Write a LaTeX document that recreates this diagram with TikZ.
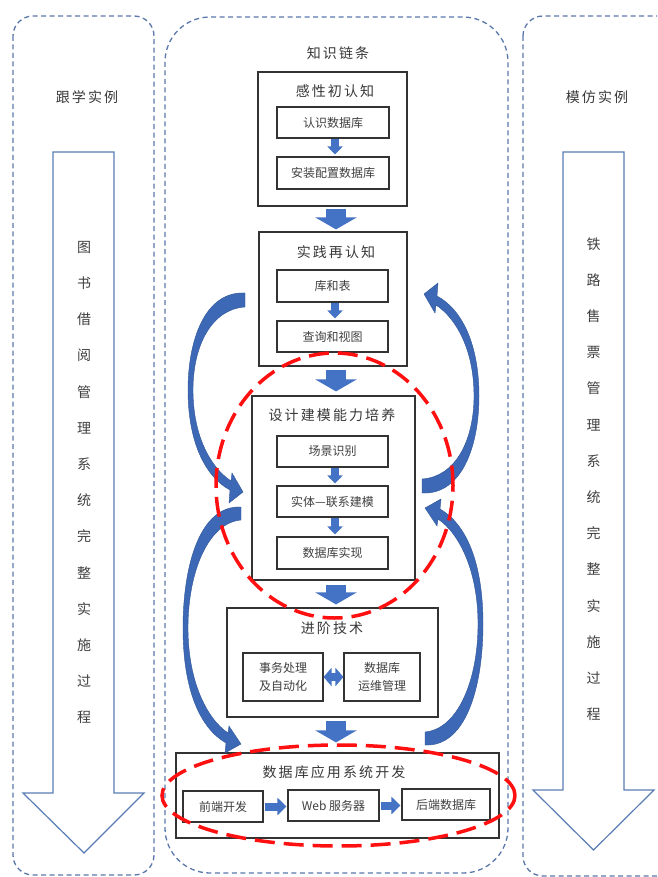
\documentclass[tikz,border=0pt]{standalone}
\usepackage{fontspec}
\setmainfont{Noto Sans CJK SC}
\newfontfamily\titlefont[LetterSpace=15]{Noto Sans CJK SC}
\usetikzlibrary{arrows.meta,calc}
\definecolor{panelblue}{HTML}{5B78AA}
\definecolor{sideblue}{HTML}{5A7DB5}
\definecolor{arrowblue}{HTML}{4472C4}
\definecolor{curvblue}{HTML}{3D68B5}
\definecolor{curvedge}{HTML}{2F5597}
\definecolor{boxgray}{HTML}{333333}
\definecolor{textgray}{HTML}{404040}
\definecolor{titlegray}{HTML}{383838}
\definecolor{ellred}{HTML}{FF1010}
\begin{document}
\begin{tikzpicture}[x=1pt,y=-1pt,
  panel/.style={draw=panelblue, line width=1.3pt, dash pattern=on 5pt off 3.5pt},
  sidearrow/.style={draw=sideblue, line width=1.2pt, fill=white, line join=miter},
  outerbox/.style={draw=boxgray, line width=1.2pt, fill=white, inner sep=0pt},
  innerbox/.style={draw=boxgray, line width=1.1pt, fill=white, inner sep=0pt, align=center,
    font=\fontsize{12}{17.5}\selectfont, text=textgray},
  ttl/.style={font=\titlefont\fontsize{14}{17}\selectfont, text=titlegray},
  vtext/.style={font=\fontsize{14}{36.2}\selectfont, align=center, text=textgray},
  bigarrow/.style={draw=arrowblue, line width=20pt, -{Triangle[width=41pt,length=12pt]}},
  smallarrow/.style={draw=arrowblue, line width=8pt, -{Triangle[width=15pt,length=8pt]}},
  harrow/.style={draw=arrowblue, line width=8pt, -{Triangle[width=17pt,length=9pt]}},
  dblarrow/.style={draw=arrowblue, line width=8pt, {Triangle[width=18pt,length=8pt]}-{Triangle[width=18pt,length=8pt]}},
  curv/.style={fill=curvblue, draw=curvedge, line width=0.4pt},
  redell/.style={draw=ellred, line width=3.5pt, dash pattern=on 20pt off 9pt}
]
\useasboundingbox (0,0) rectangle (657,877);
\clip (0,0) rectangle (657,877);

% panels
\draw[panel, rounded corners=20pt] (13,16) rectangle (154,875);
\draw[panel, rounded corners=45pt] (165,17) rectangle (508,873);
\draw[panel, rounded corners=20pt] (523,16) rectangle (690,876);

% side titles
\node[ttl] (lttl) at (87,97) {跟学实例};
\node[ttl] (rttl) at (597,97) {模仿实例};
\node[ttl] (cttl) at (338,53) {知识链条};

% side arrows
\draw[sidearrow] (53,152) -- (114,152) -- (114,793) -- (144,793) -- (84,853) -- (23,793) -- (53,793) -- cycle;
\draw[sidearrow] (563,152) -- (624,152) -- (624,790) -- (654,790) -- (593.5,850) -- (533,790) -- (563,790) -- cycle;
\node[vtext] (lvt) at (84,482.5) {图\\书\\借\\阅\\管\\理\\系\\统\\完\\整\\实\\施\\过\\程};
\node[vtext] (rvt) at (593.5,479) {铁\\路\\售\\票\\管\\理\\系\\统\\完\\整\\实\\施\\过\\程};

% axis of the main flow arrows
\coordinate (axis) at (336,0);
\coordinate (saxis) at (335,0);

% box 1
\node[outerbox, minimum width=149pt, minimum height=134pt] (b1) at (332.5,139) {};
\node[ttl] (t1) at (335,91) {感性初认知};
\node[innerbox, minimum width=112pt, minimum height=31pt] (i11) at (333,122.5) {认识数据库};
\node[innerbox, minimum width=112pt, minimum height=32pt] (i12) at (333,173) {安装配置数据库};
\draw[smallarrow, shorten >=2pt] (i11.south -| saxis) -- (i12.north -| saxis);

% box 2
\node[outerbox, minimum width=148pt, minimum height=134pt] (b2) at (333,299) {};
\node[ttl] (t2) at (336,252) {实践再认知};
\node[innerbox, minimum width=111pt, minimum height=32pt] (i21) at (332.5,286) {库和表};
\node[innerbox, minimum width=111pt, minimum height=31pt] (i22) at (332.5,336.5) {查询和视图};
\draw[smallarrow, shorten >=2pt] (i21.south -| saxis) -- (i22.north -| saxis);

% box 3
\node[outerbox, minimum width=163pt, minimum height=184pt] (b3) at (333.5,488) {};
\node[ttl] (t3) at (332,415) {设计建模能力培养};
\node[innerbox, minimum width=111pt, minimum height=31pt] (i31) at (332.5,451.5) {场景识别};
\node[innerbox, minimum width=111pt, minimum height=31pt] (i32) at (332.5,501.5) {实体—联系建模};
\node[innerbox, minimum width=111pt, minimum height=32pt] (i33) at (332.5,553) {数据库实现};
\draw[smallarrow, shorten >=2pt] (i31.south -| saxis) -- (i32.north -| saxis);
\draw[smallarrow, shorten >=2pt] (i32.south -| saxis) -- (i33.north -| saxis);

% box 4
\node[outerbox, minimum width=211pt, minimum height=109pt] (b4) at (332.5,662.5) {};
\node[ttl] (t4) at (332,628) {进阶技术};
\node[innerbox, minimum width=80pt, minimum height=48pt] (i41) at (283,677) {事务处理\\及自动化};
\node[innerbox, minimum width=76pt, minimum height=48pt] (i42) at (382,677) {数据库\\运维管理};
\draw[dblarrow] (i41.east) -- (i42.west);

% box 5
\node[outerbox, minimum width=323pt, minimum height=85pt] (b5) at (337.5,795.5) {};
\node[ttl] (t5) at (334,772) {数据库应用系统开发};
\node[innerbox, minimum width=80pt, minimum height=31pt] (i51) at (223,806.5) {前端开发};
\node[innerbox, minimum width=91pt, minimum height=31pt] (i52) at (333.5,805.5) {Web 服务器};
\node[innerbox, minimum width=88pt, minimum height=31pt] (i53) at (446,804.5) {后端数据库};
\draw[harrow, shorten <=1pt, shorten >=1pt] (i51.east) -- (i51.east -| i52.west);
\draw[harrow, shorten <=1pt, shorten >=1pt] (i52.east) -- (i52.east -| i53.west);

% big arrows between stages
\draw[bigarrow, shorten <=2pt, shorten >=2pt] (b1.south -| axis) -- (b2.north -| axis);
\draw[bigarrow, shorten <=3pt, shorten >=4pt] (b2.south -| axis) -- (b3.north -| axis);
\draw[bigarrow, shorten <=4pt, shorten >=3pt] (b3.south -| axis) -- (b4.north -| axis);
\draw[bigarrow, shorten <=3pt, shorten >=10pt] (b4.south -| axis) -- (b5.north -| axis);

% curved feedback arrows
\path[curv] (245,293) .. controls (205,291) and (188,340) .. (188,390)
  .. controls (188,440) and (204,476) .. (230,490) -- (229,503) -- (243,492) -- (232,473) -- (231,481)
  .. controls (210,467) and (193,435) .. (193,390)
  .. controls (193,345) and (212,309) .. (245,307) -- cycle;
\begin{scope}[rotate around={180:(333.5,393)}]
\path[curv] (245,293) .. controls (205,291) and (188,340) .. (188,390)
  .. controls (188,440) and (204,476) .. (230,490) -- (229,503) -- (243,492) -- (232,473) -- (231,481)
  .. controls (210,467) and (193,435) .. (193,390)
  .. controls (193,345) and (212,309) .. (245,307) -- cycle;
\end{scope}
\path[curv] (241,507) .. controls (200,505) and (183,565) .. (183,628)
  .. controls (183,690) and (200,728) .. (226,743) -- (225,753) -- (241,744) -- (229,726) -- (228,733)
  .. controls (206,718) and (188,680) .. (188,628)
  .. controls (188,572) and (208,523) .. (241,520) -- cycle;
\begin{scope}[rotate around={180:(333,626)}]
\path[curv] (241,507) .. controls (200,505) and (183,565) .. (183,628)
  .. controls (183,690) and (200,728) .. (226,743) -- (225,753) -- (241,744) -- (229,726) -- (228,733)
  .. controls (206,718) and (188,680) .. (188,628)
  .. controls (188,572) and (208,523) .. (241,520) -- cycle;
\end{scope}

% red dashed highlights
\draw[redell] (334.5,485.5) ellipse [x radius=118.5pt, y radius=132.5pt];
\draw[redell] (338.5,795.5) ellipse [x radius=176.5pt, y radius=50.5pt];
\end{tikzpicture}
\end{document}
